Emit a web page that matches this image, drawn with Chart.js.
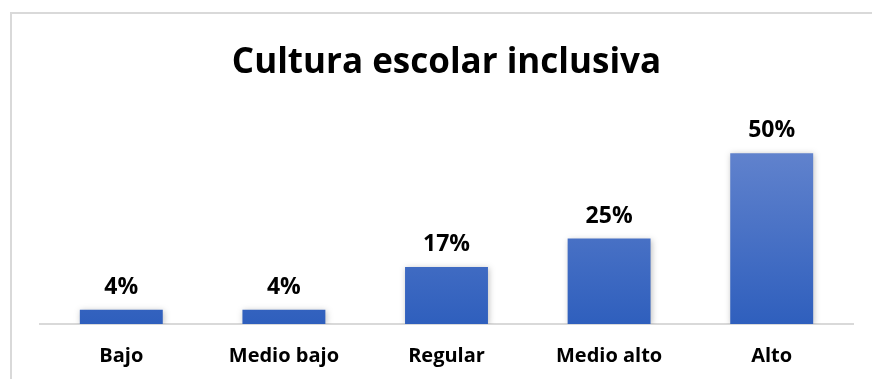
<!DOCTYPE html>
<html lang="es">
<head>
  <meta charset="UTF-8" />
  <title>Cultura escolar inclusiva</title>
  <script src="https://cdn.jsdelivr.net/npm/chart.js"></script>
  <style>
    html, body { margin: 0; padding: 0; background: #fff; overflow: hidden; }
    #wrap { position: relative; width: 872px; height: 379px; }
    #frame {
      position: absolute; left: 10px; top: 12px; width: 900px; height: 400px;
      border: 2px solid #d9d9d9; box-sizing: border-box;
    }
    canvas { position: absolute; left: 0; top: 0; }
  </style>
</head>
<body>
  <div id="wrap">
    <div id="frame"></div>
    <canvas id="chart" width="872" height="379"></canvas>
  </div>

  <script>
    const categories = ['Bajo', 'Medio bajo', 'Regular', 'Medio alto', 'Alto'];
    const percentages = [4.2, 4.2, 16.7, 25, 50];

    const fontFamily = "'Open Sans', 'Liberation Sans', sans-serif";

    // value labels above each bar
    const valueLabels = {
      id: 'valueLabels',
      afterDatasetsDraw(chart) {
        const ctx = chart.ctx;
        const meta = chart.getDatasetMeta(0);
        ctx.save();
        ctx.font = 'bold 23px ' + fontFamily;
        ctx.fillStyle = '#000';
        ctx.textAlign = 'center';
        ctx.textBaseline = 'bottom';
        meta.data.forEach((bar, i) => {
          ctx.fillText(Math.round(percentages[i]) + '%', bar.x, bar.y - 11);
        });
        ctx.restore();
      }
    };

    // soft shadow around bars
    const barShadow = {
      id: 'barShadow',
      beforeDatasetsDraw(chart) {
        const ctx = chart.ctx;
        ctx.save();
        ctx.shadowColor = 'rgba(0,0,0,0.25)';
        ctx.shadowBlur = 6;
        ctx.shadowOffsetX = 1;
        ctx.shadowOffsetY = 1;
      },
      afterDatasetsDraw(chart) {
        chart.ctx.restore();
      }
    };

    const ctx = document.getElementById('chart').getContext('2d');

    new Chart(ctx, {
      type: 'bar',
      data: {
        labels: categories,
        datasets: [{
          data: percentages,
          backgroundColor: (c) => {
            const area = c.chart.chartArea;
            if (!area) return '#3f6cc4';
            const g = c.chart.ctx.createLinearGradient(0, area.top, 0, area.bottom);
            g.addColorStop(0, '#6a89d0');
            g.addColorStop(1, '#2f5fbd');
            return g;
          },
          barPercentage: 0.51,
          categoryPercentage: 1.0
        }]
      },
      options: {
        responsive: false,
        animation: false,
        layout: { padding: { left: 40, right: 19, top: 0, bottom: -9 } },
        plugins: {
          legend: { display: false },
          tooltip: { enabled: false },
          title: {
            display: true,
            text: 'Cultura escolar inclusiva',
            color: '#000',
            font: { family: fontFamily, size: 35, weight: 'bold' },
            padding: { top: 42, bottom: 35 }
          }
        },
        scales: {
          x: {
            grid: { display: false, drawTicks: false },
            border: { display: true, color: '#d9d9d9', width: 2 },
            ticks: {
              color: '#000',
              padding: 20,
              font: { family: fontFamily, size: 20, weight: 'bold' }
            }
          },
          y: {
            display: false,
            min: 0,
            max: 60
          }
        }
      },
      plugins: [barShadow, valueLabels]
    });
  </script>
</body>
</html>
